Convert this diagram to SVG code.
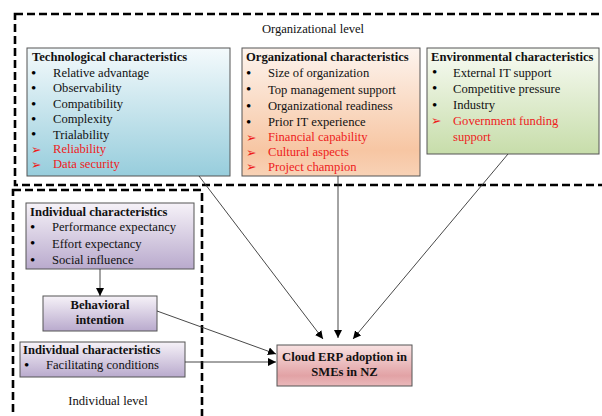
<svg xmlns="http://www.w3.org/2000/svg" width="602" height="416" viewBox="0 0 602 416">
<style>
text{font-family:"Liberation Serif","Times New Roman",serif;font-size:12.6px;fill:#111}
.b{font-weight:bold}
.r{fill:#ee1c1c}
.u{font-size:15px;fill:#000}
.arw{font-family:"DejaVu Sans",sans-serif;font-size:12.5px;fill:#ee1c1c}
.box{stroke:#555;stroke-width:1}
.dash{fill:none;stroke:#000;stroke-width:2.6;stroke-dasharray:8 4}
.con{stroke:#333;stroke-width:0.9;fill:none;marker-end:url(#ah)}
.c{text-anchor:middle}
</style>
<defs>
<marker id="ah" viewBox="0 0 10 10" refX="10" refY="5" markerWidth="8" markerHeight="8" markerUnits="userSpaceOnUse" orient="auto">
<path d="M0,0 L10,5 L0,10 z" fill="#000"/>
</marker>
<linearGradient id="gT" x1="0" y1="0" x2="0" y2="1"><stop offset="0" stop-color="#f4fafc"/><stop offset="1" stop-color="#97cddc"/></linearGradient>
<linearGradient id="gO" x1="0" y1="0" x2="0" y2="1"><stop offset="0" stop-color="#fdf4ee"/><stop offset="0.8" stop-color="#f7c6a3"/><stop offset="1" stop-color="#f8d2b6"/></linearGradient>
<linearGradient id="gE" x1="0" y1="0" x2="0" y2="1"><stop offset="0" stop-color="#f8fbf4"/><stop offset="1" stop-color="#c7ddaa"/></linearGradient>
<linearGradient id="gP" x1="0" y1="0" x2="0" y2="1"><stop offset="0" stop-color="#f6f2f8"/><stop offset="1" stop-color="#b9aacd"/></linearGradient>
<linearGradient id="gR" x1="0" y1="0" x2="0" y2="1"><stop offset="0" stop-color="#f8e2e2"/><stop offset="0.75" stop-color="#e2a2a5"/><stop offset="1" stop-color="#eab9bb"/></linearGradient>
</defs>

<g id="org-level">
<rect class="dash" x="15" y="14" width="600" height="171"/>
<text x="313" y="33" class="c">Organizational level</text>
</g>
<g id="ind-level">
<rect class="dash" x="13" y="190" width="189" height="240"/>
<text x="108" y="405" class="c">Individual level</text>
</g>

<g id="tech">
<rect class="box" x="27" y="48" width="203" height="128" fill="url(#gT)"/>
<text x="32" y="61" class="b">Technological characteristics</text>
<text x="31" y="77.5" class="u">•</text><text x="53" y="77">Relative advantage</text>
<text x="31" y="92.5" class="u">•</text><text x="53" y="92">Observability</text>
<text x="31" y="108.5" class="u">•</text><text x="53" y="108">Compatibility</text>
<text x="31" y="123.5" class="u">•</text><text x="53" y="123">Complexity</text>
<text x="31" y="139" class="u">•</text><text x="53" y="138.5">Trialability</text>
<text x="31" y="153.5" class="arw">➢</text><text x="53" y="153" class="r">Reliability</text>
<text x="31" y="168.5" class="arw">➢</text><text x="53" y="168" class="r">Data security</text>
</g>

<g id="orgchar">
<rect class="box" x="242" y="48" width="178" height="128" fill="url(#gO)"/>
<text x="246" y="61" class="b">Organizational characteristics</text>
<text x="246" y="77.5" class="u">•</text><text x="268" y="77">Size of organization</text>
<text x="246" y="94" class="u">•</text><text x="268" y="93.5">Top management support</text>
<text x="246" y="110.5" class="u">•</text><text x="268" y="110">Organizational readiness</text>
<text x="246" y="126.5" class="u">•</text><text x="268" y="126">Prior IT experience</text>
<text x="246" y="141.5" class="arw">➢</text><text x="268" y="141" class="r">Financial capability</text>
<text x="246" y="156.5" class="arw">➢</text><text x="268" y="156" class="r">Cultural aspects</text>
<text x="246" y="171" class="arw">➢</text><text x="268" y="170.5" class="r">Project champion</text>
</g>

<g id="env">
<rect class="box" x="427" y="48" width="172" height="106" fill="url(#gE)"/>
<text x="431" y="61" class="b">Environmental characteristics</text>
<text x="432" y="77" class="u">•</text><text x="453" y="76.5">External IT support</text>
<text x="432" y="93" class="u">•</text><text x="453" y="92.5">Competitive pressure</text>
<text x="432" y="109.5" class="u">•</text><text x="453" y="109">Industry</text>
<text x="431" y="125" class="arw">➢</text><text x="453" y="124.5" class="r">Government funding</text>
<text x="453" y="140.5" class="r">support</text>
</g>

<g id="ind1">
<rect class="box" x="26" y="203" width="168" height="66" fill="url(#gP)"/>
<text x="30" y="216" class="b">Individual characteristics</text>
<text x="30" y="231.5" class="u">•</text><text x="52" y="231">Performance expectancy</text>
<text x="30" y="248" class="u">•</text><text x="52" y="247.5">Effort expectancy</text>
<text x="30" y="264.5" class="u">•</text><text x="52" y="264">Social influence</text>
</g>

<g id="behav">
<rect class="box" x="43" y="296" width="114" height="35" fill="url(#gP)"/>
<text x="100" y="309" class="b c">Behavioral</text>
<text x="100" y="324" class="b c">intention</text>
</g>

<g id="ind2">
<rect class="box" x="20" y="342" width="165" height="35" fill="url(#gP)"/>
<text x="23" y="354" class="b">Individual characteristics</text>
<text x="24" y="369.5" class="u">•</text><text x="46" y="369">Facilitating conditions</text>
</g>

<g id="cloud">
<rect class="box" x="277" y="345" width="135" height="41" fill="url(#gR)"/>
<text x="344.5" y="361" class="b c">Cloud ERP adoption in</text>
<text x="344.5" y="376" class="b c">SMEs in NZ</text>
</g>

<g id="connectors">
<line class="con" x1="199" y1="176" x2="323" y2="339"/>
<line class="con" x1="338" y1="176" x2="338" y2="338"/>
<line class="con" x1="508" y1="154" x2="353" y2="339"/>
<line class="con" x1="157" y1="311" x2="276" y2="354"/>
<line class="con" x1="185" y1="362" x2="276" y2="362"/>
<line class="con" x1="100" y1="269" x2="100" y2="296"/>
</g>
</svg>
